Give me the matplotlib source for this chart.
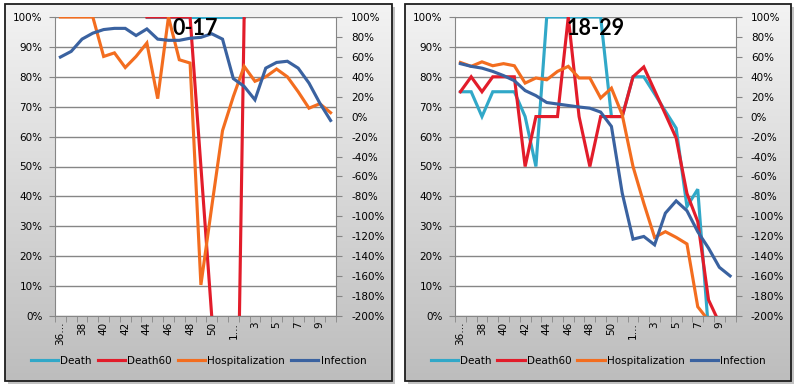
import numpy as np
import matplotlib
matplotlib.use("Agg")
import matplotlib.pyplot as plt
from matplotlib.patches import Rectangle
from matplotlib.colors import LinearSegmentedColormap
from matplotlib.ticker import FixedLocator, FuncFormatter

nan = np.nan

# ---------------- data ----------------
weeks = ["36…", "37", "38", "39", "40", "41", "42", "43", "44", "45", "46", "47",
         "48", "49", "50", "51", "1…", "2", "3", "4", "5", "6", "7", "8", "9", "10"]

series_names = ["Death", "Death60", "Hospitalization", "Infection"]
colors = ["#31a8c8", "#e21c2a", "#f36d1f", "#3a62a0"]

# values in % (left axis units)
death_017 = [nan] * 8 + [100] * 10 + [nan] * 8
death60_017 = [nan] * 8 + [100, 100, 100, 100, 100, 50, 0, -100, -130, 100] + [nan] * 8
hosp_017 = [100, 100, 100, 100, 86.8, 88, 83.1, 86.8, 91.3, 72.7, 100, 85.7, 84.6,
            10.4, 36.5, 62, 73.4, 83.5, 78.5, 80, 82.6, 80, 75, 69.5, 71, 68]
inf_017 = [86.6, 88.5, 92.6, 94.6, 95.8, 96.2, 96.2, 93.8, 96, 92.6, 92.2, 92.2, 92.9,
           93.2, 94.4, 92.6, 79.4, 76.8, 72.3, 82.9, 84.8, 85.2, 82.9, 77.9, 71.2, 65.4]

death_1829 = [75, 75, 66.7, 75, 75, 75, 66.7, 50, 100, 100, 100, 100, 100, 100,
              66.7, 66.7, 80, 80, 74.3, 68.5, 62.8, 36.6, 42.4, -5, nan, nan]
death60_1829 = [75, 80, 75, 80, 80, 80, 50, 66.7, 66.7, 66.7, 100, 66.7, 50, 66.7,
                66.7, 66.7, 80, 83.3, 75.4, 67.5, 59.5, 41, 31.6, 5.4, -2.3, nan]
hosp_1829 = [84.8, 83.5, 85, 83.7, 84.4, 83.7, 77.9, 79.6, 79, 81.8, 83.5, 79.6, 79.6,
             72.9, 76.2, 67.3, 50, 37.7, 26.3, 28.2, 26.3, 24.1, 3.1, -1.5, nan, nan]
inf_1829 = [84.4, 83.5, 82.9, 81.8, 80.4, 78.7, 75.4, 73.7, 71.4, 70.9, 70.4, 69.9, 69.5,
            68.2, 63.4, 41.1, 25.7, 26.6, 23.8, 34.4, 38.5, 35.2, 28.2, 22.7, 16.3, 13.4]

panels = [
    ("0-17", [death_017, death60_017, hosp_017, inf_017]),
    ("18-29", [death_1829, death60_1829, hosp_1829, inf_1829]),
]

left_ticks = list(range(0, 101, 10))
right_ticks = list(range(-200, 101, 20))

# ---------------- layout ----------------
W, H = 796, 388
fig = plt.figure(figsize=(W / 100, H / 100), dpi=100)
fig.patch.set_facecolor("white")

bg = fig.add_axes([0, 0, 1, 1], zorder=-10)
bg.set_xlim(0, W)
bg.set_ylim(H, 0)
bg.axis("off")

frames = [(5, 4, 392, 381), (405, 4, 791, 381)]
plot_px = [(55, 17, 336, 316), (455, 17, 735.5, 316)]
cmap = LinearSegmentedColormap.from_list("g", ["#f3f3f3", "#bdbdbd"])
grad = np.linspace(0, 1, 256).reshape(-1, 1)
for (x0, y0, x1, y1) in frames:
    bg.add_patch(Rectangle((x0 + 2.5, y0 + 2.5), x1 - x0, y1 - y0,
                           facecolor="#9a9a9a", edgecolor="none", alpha=0.6))
    bg.imshow(grad, extent=(x0, x1, y1, y0), aspect="auto", cmap=cmap,
              origin="upper", zorder=1)
    bg.add_patch(Rectangle((x0, y0), x1 - x0, y1 - y0, facecolor="none",
                           edgecolor="#1e1e1e", lw=1.3, zorder=2))

FS = 7.5
FONT = "DejaVu Sans"
grid_c = "#868686"
x = np.arange(len(weeks))

for (title, data), (px0, py0, px1, py1) in zip(panels, plot_px):
    ax = fig.add_axes([px0 / W, 1 - py1 / H, (px1 - px0) / W, (py1 - py0) / H])
    ax.set_facecolor("white")
    lines = []
    for vals, name, c in zip(data, series_names, colors):
        ln, = ax.plot(x, np.array(vals, dtype=float), color=c, lw=2.25,
                      solid_joinstyle="miter", label=name)
        lines.append(ln)
    ax.set_xlim(-0.5, len(weeks) - 0.5)
    ax.set_ylim(0, 100)
    ax.yaxis.set_major_locator(FixedLocator(left_ticks))
    ax.yaxis.set_major_formatter(FuncFormatter(lambda v, p: f"{int(round(v))}%"))
    ax.yaxis.grid(True, color=grid_c, lw=1)
    ax.set_xticks(x[::2])
    ax.set_xticklabels(weeks[::2], rotation=90, fontsize=FS, family=FONT)
    ax.set_xticks(np.arange(-0.5, len(weeks)), minor=True)
    ax.tick_params(axis="x", which="major", length=0, pad=4)
    ax.tick_params(axis="x", which="minor", length=4, color=grid_c, direction="out")
    ax.tick_params(axis="y", length=4, color=grid_c, direction="out", pad=5,
                   labelsize=FS)
    for lab in ax.get_yticklabels():
        lab.set_family(FONT)
    for s in ["left", "bottom", "right"]:
        ax.spines[s].set_color(grid_c)
    ax.spines["top"].set_visible(False)
    ax.spines["right"].set_visible(False)

    ax2 = ax.twinx()
    ax2.set_ylim(-200, 100)
    ax2.yaxis.set_major_locator(FixedLocator(right_ticks))
    ax2.yaxis.set_major_formatter(FuncFormatter(lambda v, p: f"{int(round(v))}%"))
    ax2.tick_params(axis="y", length=4, color=grid_c, direction="out", pad=7,
                    labelsize=FS)
    for lab in ax2.get_yticklabels():
        lab.set_family(FONT)
    for s in ["left", "bottom", "top"]:
        ax2.spines[s].set_visible(False)
    ax2.spines["right"].set_color(grid_c)

    ax2.text(0.5, 0.963, title, transform=ax.transAxes, ha="center", va="center",
             fontsize=15.5, fontweight="bold", family="Lato", color="black", zorder=20)

    cx = (px0 + px1) / 2 + 3
    leg = ax2.legend(lines, series_names, loc="center",
                     bbox_to_anchor=(cx / W, 1 - 361 / H), bbox_transform=fig.transFigure,
                     ncol=4, frameon=False, handlelength=2.6, handletextpad=0.25,
                     columnspacing=0.55, borderpad=0,
                     prop={"family": FONT, "size": FS})

fig.savefig("out.png", dpi=100)
